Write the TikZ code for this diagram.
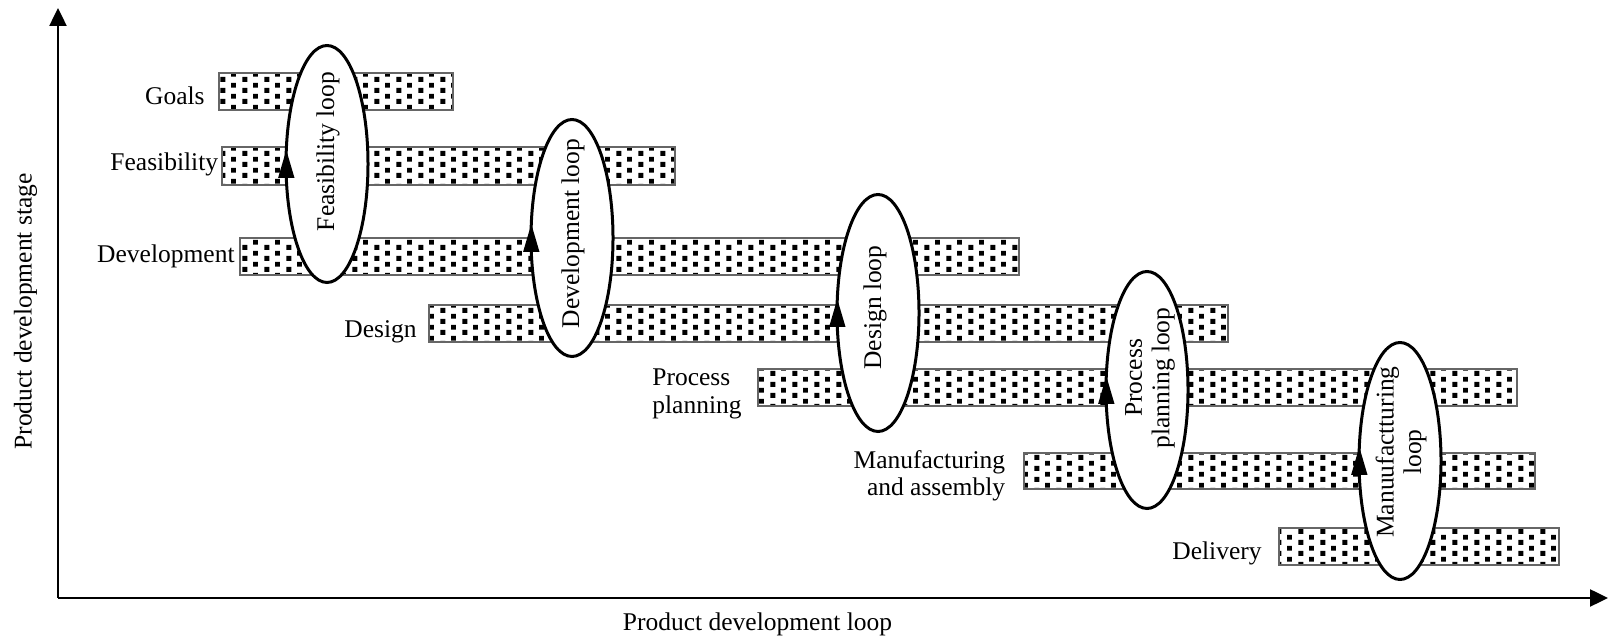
\documentclass[tikz,border=0pt]{standalone}
\usepackage{fontspec}
\setmainfont{Liberation Serif}
\usetikzlibrary{shapes.geometric, arrows.meta, patterns}

\pgfdeclarepatternformonly{bardots}{\pgfpointorigin}{\pgfpoint{11pt}{5.25pt}}{\pgfpoint{11pt}{5.25pt}}{%
  \pgfpathrectangle{\pgfpoint{0.25pt}{0.1pt}}{\pgfpoint{2.5pt}{2.5pt}}%
  \pgfpathrectangle{\pgfpoint{5.75pt}{2.725pt}}{\pgfpoint{2.5pt}{2.5pt}}%
  \pgfusepath{fill}}

\begin{document}
\begin{tikzpicture}[x=0.5pt, y=0.5pt, font=\fontsize{12.75}{13.75}\selectfont,
  stagebar/.style={draw=black!60, line width=0.6pt, pattern=bardots},
  loopell/.style={draw, ellipse, line width=1.5pt, fill=white, inner sep=0pt, outer sep=0pt, minimum width=41pt, minimum height=118.5pt},
  looparrow/.style={-{Triangle[length=14pt, width=8pt]}, line width=0.8pt},
  axis/.style={-{Triangle[length=9pt, width=8.5pt]}, line width=1.2pt},
  stagelabel/.style={anchor=east, inner sep=0pt},
  looplabel/.style={rotate=90, align=center, inner sep=0pt}]
\useasboundingbox (0,0) rectangle (1609,640);

% axes
\coordinate (origin) at (58,42);
\coordinate (ytip) at (58,632);
\coordinate (xtip) at (1608,42);
\draw[axis] (origin) -- (ytip);
\draw[axis] (origin) -- (xtip);
\node[rotate=90] (ylabel) at (25.5,328.5) {Product development stage};
\node (xlabel) at (757.5,16) {Product development loop};

% stages
\draw[stagebar] (219,530) rectangle (453,567);
\draw[stagebar] (222,455) rectangle (675,493);
\draw[stagebar] (240,365) rectangle (1019,402);
\draw[stagebar] (429,298) rectangle (1228,335);
\draw[stagebar] (758,234) rectangle (1517,271);
\draw[stagebar] (1024,151) rectangle (1535,187);
\draw[stagebar] (1279,75) rectangle (1559,112);

\node[stagelabel] (goals) at (205,544) {Goals};
\node[stagelabel] (feas) at (218.5,476) {Feasibility};
\node[stagelabel] (dev) at (235,383.5) {Development};
\node[stagelabel] (design) at (417,308.5) {Design};
\node[stagelabel, align=left] (process) at (742,246) {Process\\planning};
\node[stagelabel, align=right] (manuf) at (1005.5,164) {Manufacturing\\and assembly};
\node[stagelabel] (delivery) at (1262,87) {Delivery};

% loops
\node[loopell] (feasloop) at (327,476) {};
\node[loopell] (devloop) at (572,402) {};
\node[loopell] (designloop) at (878,327) {};
\node[loopell] (processloop) at (1147,250) {};
\node[loopell] (manufloop) at (1400,179) {};

\draw[looparrow] (feasloop.199) -- (feasloop.161);
\draw[looparrow] (devloop.199) -- (devloop.161);
\draw[looparrow] (designloop.199) -- (designloop.161);
\draw[looparrow] (processloop.199) -- (processloop.161);
\draw[looparrow] (manufloop.199) -- (manufloop.161);

\node[looplabel] (feastext) at (328,488.5) {Feasibility loop};
\node[looplabel] (devtext) at (573,406.5) {Development loop};
\node[looplabel] (designtext) at (875,332.5) {Design loop};
\node[looplabel] (processtext) at (1150,262) {Process\\planning loop};
\node[looplabel] (manuftext) at (1401,188) {Manuufactturing\\loop};
\end{tikzpicture}
\end{document}
